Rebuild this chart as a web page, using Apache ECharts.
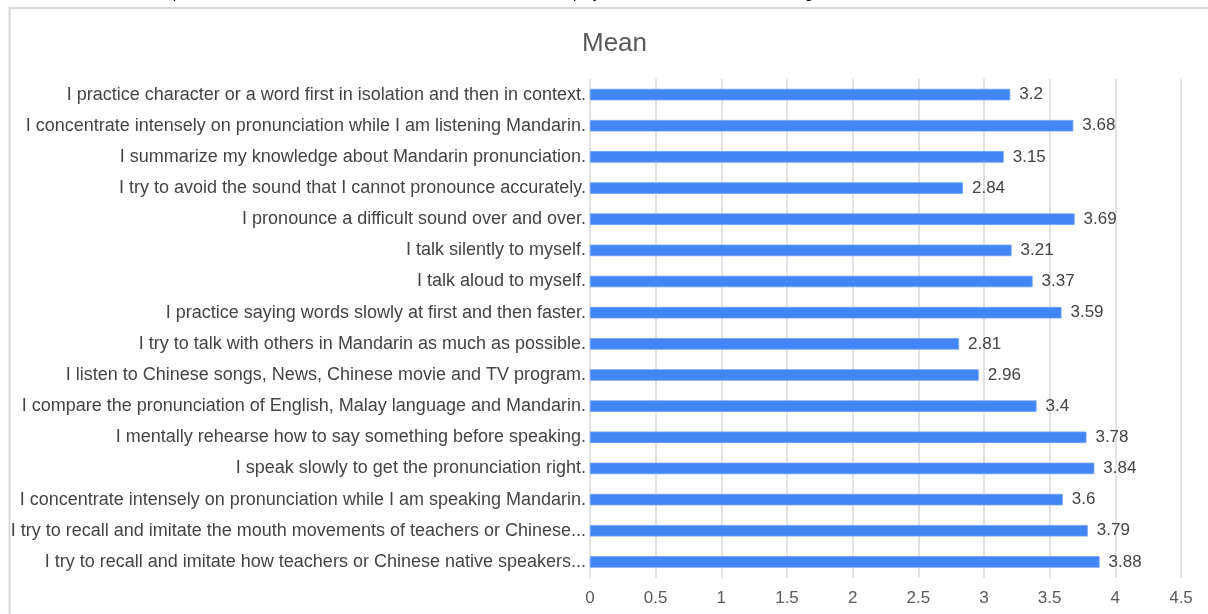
<!DOCTYPE html>
<html>
<head>
<meta charset="utf-8">
<style>
  html, body { margin: 0; padding: 0; background: #ffffff; }
  #chart { width: 1208px; height: 614px; }
</style>
<script src="https://cdn.jsdelivr.net/npm/echarts@6/dist/echarts.min.js"></script>
</head>
<body>
<div id="chart"></div>
<script>
// Statements, listed top to bottom
const statements = [
  'I practice character or a word first in isolation and then in context.',
  'I concentrate intensely on pronunciation while I am listening Mandarin.',
  'I summarize my knowledge about Mandarin pronunciation.',
  'I try to avoid the sound that I cannot pronounce accurately.',
  'I pronounce a difficult sound over and over.',
  'I talk silently to myself.',
  'I talk aloud to myself.',
  'I practice saying words slowly at first and then faster.',
  'I try to talk with others in Mandarin as much as possible.',
  'I listen to Chinese songs, News, Chinese movie and TV program.',
  'I compare the pronunciation of English, Malay language and Mandarin.',
  'I mentally rehearse how to say something before speaking.',
  'I speak slowly to get the pronunciation right.',
  'I concentrate intensely on pronunciation while I am speaking Mandarin.',
  'I try to recall and imitate the mouth movements of teachers or Chinese...',
  'I try to recall and imitate how teachers or Chinese native speakers...'
];

// Mean score for each statement
const meanValues = [3.2, 3.68, 3.15, 2.84, 3.69, 3.21, 3.37, 3.59, 2.81, 2.96, 3.4, 3.78, 3.84, 3.6, 3.79, 3.88];

// Value axis ticks
const axisMin = 0;
const axisMax = 4.5;
const axisStep = 0.5;

const chart = echarts.init(document.getElementById('chart'), null, { renderer: 'canvas' });

const labelFont = '"Liberation Sans", Arial, sans-serif';

chart.setOption({
  backgroundColor: '#ffffff',
  animation: false,
  title: {
    text: 'Mean',
    left: 577,
    top: 26,
    textStyle: {
      fontFamily: labelFont,
      fontSize: 26,
      fontWeight: 'normal',
      color: '#5a5a5a'
    }
  },
  graphic: [
    {
      // chart frame
      type: 'rect',
      silent: true,
      shape: { x: 9.5, y: 8, width: 1220, height: 640 },
      style: { fill: 'none', stroke: '#d9d9d9', lineWidth: 2 }
    },
    {
      // running text of the page above the chart
      type: 'text',
      silent: true,
      left: 56,
      top: -14,
      style: {
        text: 'Below shows the pronunciation methods in this section which the students employ the most in all three main categories.',
        fontFamily: labelFont,
        fontSize: 15,
        fill: '#000000'
      }
    }
  ],
  grid: {
    left: 590,
    right: 27,
    top: 79,
    bottom: 36.5,
    containLabel: false
  },
  xAxis: {
    type: 'value',
    min: axisMin,
    max: axisMax,
    interval: axisStep,
    axisLine: { show: false },
    axisTick: { show: false },
    axisLabel: {
      margin: 12,
      fontFamily: labelFont,
      fontSize: 17,
      color: '#5a5a5a'
    },
    splitLine: {
      show: true,
      lineStyle: { color: '#d9d9d9', width: 1.5 }
    }
  },
  yAxis: {
    type: 'category',
    inverse: true,
    data: statements,
    axisLine: { show: false },
    axisTick: { show: false },
    axisLabel: {
      margin: 4,
      fontFamily: labelFont,
      fontSize: 18,
      color: '#444444'
    },
    splitLine: { show: false }
  },
  series: [
    {
      type: 'bar',
      data: meanValues,
      barWidth: 11.5,
      itemStyle: {
        color: '#4285f4',
        borderColor: '#6fa0f6',
        borderWidth: 0.8
      },
      label: {
        show: true,
        position: 'right',
        distance: 9,
        fontFamily: labelFont,
        fontSize: 17,
        color: '#444444'
      }
    }
  ]
});
</script>
</body>
</html>
